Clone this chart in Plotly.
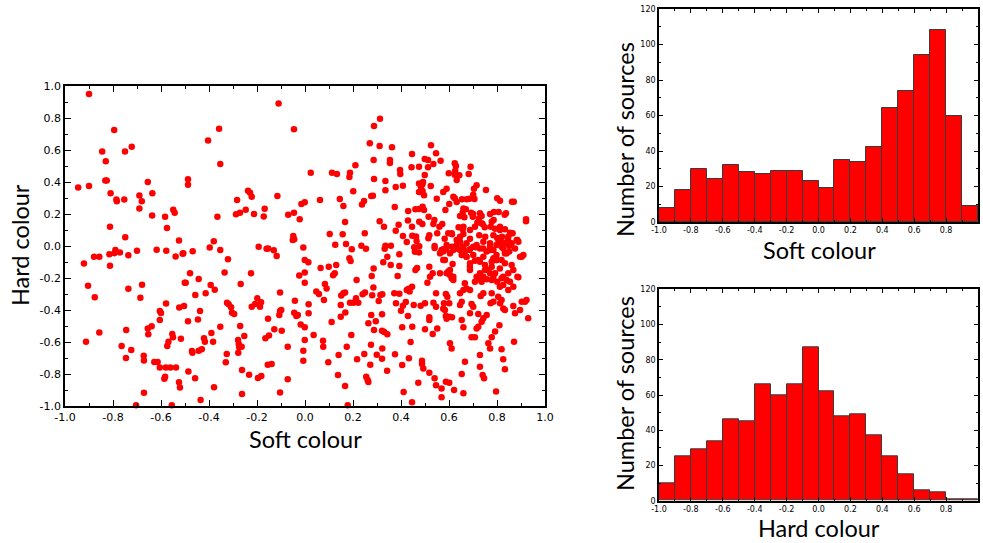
import numpy as np
import plotly.graph_objects as go

# ---------------- data ----------------
soft_colour = [
    -0.90, -0.795, -0.845, -0.75, -0.722, -0.83, -0.832, -0.826, -0.945, -0.90,
    -0.655, -0.81, -0.786, -0.784, -0.753, -0.69, -0.68, -0.636, -0.69, -0.637,
    -0.549, -0.543, -0.583, -0.8125, -0.575, -0.749, -0.525,
    -0.921, -0.879, -0.857, -0.815, -0.794, -0.79, -0.771, -0.8125, -0.736, -0.70,
    -0.618, -0.578, -0.539, -0.51,
    -0.904, -0.876, -0.736, -0.679, -0.686, -0.501, -0.579, -0.605, -0.60, -0.605,
    -0.524, -0.504,
    -0.857, -0.9125, -0.745, -0.655, -0.639, -0.653, -0.553, -0.55, -0.569, -0.574,
    -0.517, -0.764, -0.724, -0.746, -0.672, -0.671, -0.628, -0.614, -0.605, -0.58,
    -0.561, -0.5375, -0.586, -0.583, -0.525, -0.521, -0.671, -0.704, -0.555,
    -0.11, -0.358, -0.046, -0.404, -0.353, -0.4875, -0.4875, -0.2375, -0.229, -0.222,
    -0.283, -0.115, -0.365, -0.2875, -0.271, -0.247, -0.2125, -0.168, -0.172, -0.07,
    -0.046, -0.022, -0.015, -0.001, -0.38, -0.049, -0.045, -0.051,
    -0.507, -0.468, -0.397, -0.353, -0.193, -0.16, -0.153, -0.13, -0.118, -0.321,
    -0.007, -0.001, -0.479, -0.335, -0.225, -0.497, -0.443, -0.393, -0.376, -0.268,
    -0.024, -0.001, -0.001, -0.457, -0.414, -0.104, -0.325, -0.318, -0.308, -0.304,
    -0.295, -0.199, -0.183, -0.1875, -0.208, -0.222, -0.4375, -0.4875, -0.446, -0.104,
    -0.099, -0.107, -0.154, -0.042, -0.045, -0.036, -0.03, -0.018, -0.001, -0.353,
    -0.27, -0.39, -0.421, -0.417, -0.383, -0.279, -0.276, -0.274, -0.264, -0.278,
    -0.253, -0.165, -0.15, -0.128, -0.097, -0.072, -0.007, -0.001, -0.471, -0.469,
    -0.443, -0.43, -0.326, -0.33, -0.007, -0.155, -0.139, -0.486, -0.458, -0.2625,
    -0.233, -0.196, -0.182, -0.072, -0.379, -0.2625, -0.104, -0.435,
    0.3125, 0.2875, 0.27, 0.311, 0.3625, 0.446, 0.286, 0.354, 0.354, 0.499,
    0.21, 0.024, 0.1125, 0.133, 0.1875, 0.185, 0.396, 0.397, 0.444, 0.475,
    0.2875, 0.335, 0.335, 0.378, 0.408, 0.475, 0.489, 0.483, 0.492, 0.201,
    0.475, 0.49, 0.496, 0.0625, 0.145, 0.16, 0.276, 0.283, 0.2375, 0.246,
    0.374, 0.43, 0.46, 0.475, 0.49, 0.496, 0.167, 0.311, 0.329, 0.39,
    0.378, 0.429, 0.446, 0.476, 0.489, 0.103, 0.157, 0.249, 0.408, 0.447,
    0.4625, 0.424, 0.465, 0.126, 0.171, 0.235, 0.254, 0.195, 0.335, 0.358,
    0.332, 0.455, 0.476,
    0.014, 0.065, 0.099, 0.13, 0.185, 0.19, 0.117, 0.124, 0.215, 0.286,
    0.278, 0.326, 0.343, 0.357, 0.393, 0.393, 0.386, 0.46, 0.467, 0.458,
    0.475, 0.083, 0.09, 0.047, 0.058, 0.079, 0.015, 0.015, 0.036, 0.097,
    0.111, 0.149, 0.168, 0.149, 0.151, 0.16, 0.167, 0.1875, 0.201, 0.2125,
    0.222, 0.24, 0.25, 0.28, 0.285, 0.307, 0.314, 0.322, 0.372, 0.393,
    0.379, 0.40, 0.408, 0.42, 0.424, 0.436, 0.432, 0.446, 0.453, 0.482,
    0.429, 0.276, 0.321, 0.264, 0.295, 0.2875, 0.321, 0.343, 0.33, 0.405,
    0.447, 0.193, 0.075, 0.076, 0.174, 0.275, 0.322, 0.44, 0.14, 0.217,
    0.247, 0.299, 0.321, 0.272, 0.375, 0.433, 0.405, 0.4875, 0.4875, 0.342,
    0.1375, 0.255, 0.261, 0.264, 0.167, 0.472, 0.411, 0.446, 0.178,
    0.525, 0.546, 0.5125, 0.565, 0.535, 0.5125, 0.499, 0.624, 0.629, 0.626,
    0.624, 0.599, 0.643, 0.632, 0.69, 0.682, 0.524, 0.549, 0.576, 0.59,
    0.585, 0.618, 0.624, 0.601, 0.632, 0.654, 0.674, 0.685, 0.701, 0.715,
    0.704, 0.754, 0.706, 0.801, 0.8125, 0.8625, 0.87, 0.515, 0.539, 0.535,
    0.56, 0.572, 0.66, 0.67, 0.657, 0.646, 0.664, 0.692, 0.701, 0.699,
    0.729, 0.736, 0.724, 0.718, 0.74, 0.771, 0.7875, 0.807, 0.786, 0.832,
    0.8375, 0.921, 0.921, 0.64, 0.657, 0.6875, 0.708, 0.749, 0.774, 0.792,
    0.8125, 0.833, 0.854, 0.865, 0.518, 0.514, 0.551, 0.597, 0.6125, 0.582,
    0.646, 0.66, 0.6875, 0.726, 0.751, 0.785, 0.801, 0.821, 0.846, 0.82,
    0.885, 0.861, 0.54, 0.576, 0.59, 0.612, 0.632, 0.66, 0.687, 0.712,
    0.743, 0.771, 0.798, 0.826, 0.851,
    0.54, 0.576, 0.587, 0.604, 0.618, 0.632, 0.646, 0.657, 0.666, 0.685,
    0.701, 0.715, 0.729, 0.743, 0.757, 0.771, 0.785, 0.798, 0.819, 0.833,
    0.851, 0.843, 0.889, 0.91, 0.896, 0.576, 0.615, 0.653, 0.673, 0.708,
    0.729, 0.75, 0.764, 0.778, 0.792, 0.812, 0.833, 0.847, 0.868, 0.885,
    0.604, 0.6875, 0.819, 0.798, 0.785, 0.6875, 0.729, 0.743, 0.778, 0.826,
    0.861, 0.673, 0.743, 0.805, 0.875, 0.5625,
    0.518, 0.532, 0.521, 0.51, 0.5625, 0.597, 0.604, 0.611, 0.618, 0.666,
    0.66, 0.673, 0.6875, 0.646, 0.708, 0.722, 0.736, 0.757, 0.771, 0.785,
    0.801, 0.819, 0.84, 0.854, 0.889, 0.868, 0.847, 0.826, 0.546, 0.587,
    0.593, 0.50, 0.535, 0.546, 0.579, 0.601, 0.583, 0.576, 0.587, 0.601,
    0.6125, 0.59, 0.646, 0.653, 0.694, 0.701, 0.732, 0.743, 0.778, 0.773,
    0.785, 0.8125, 0.819, 0.805, 0.826, 0.833, 0.868, 0.875, 0.896, 0.9165,
    0.923, 0.93, 0.903, 0.6875, 0.722, 0.757, 0.743, 0.736, 0.722, 0.715,
    0.653, 0.66, 0.518, 0.518, 0.50, 0.551, 0.532, 0.694, 0.708, 0.604,
    0.611, 0.764, 0.771, 0.778, 0.792, 0.81, 0.871, 0.819, 0.729, 0.826,
    0.6665, 0.493, 0.729, 0.74, 0.746, 0.833, 0.518, 0.54, 0.546, 0.569,
    0.587, 0.601, 0.569, 0.653, 0.621, 0.66, 0.796,
    0.569, 0.583, 0.611, 0.632, 0.646, 0.673, 0.701, 0.722, 0.75, 0.771,
    0.798, 0.826, 0.84, 0.861, 0.59, 0.618, 0.687, 0.715, 0.778, 0.812,
    0.66, 0.736, 0.778, 0.812, 0.847, 0.903, 0.882,
]

hard_colour = [
    0.95, 0.725, 0.59, 0.59, 0.62, 0.53, 0.41, 0.41, 0.365, 0.375,
    0.40, 0.33, 0.29, 0.28, 0.29, 0.315, 0.28, 0.33, 0.235, 0.19,
    0.227, 0.208, 0.183, 0.12, 0.1125, 0.054, 0.035,
    -0.11, -0.067, -0.067, -0.052, -0.045, -0.025, -0.04, -0.123, -0.058, -0.03,
    -0.023, -0.03, -0.065, -0.048,
    -0.248, -0.32, -0.267, -0.242, -0.323, -0.229, -0.36, -0.406, -0.419, -0.4625,
    -0.385, -0.375,
    -0.54, -0.598, -0.525, -0.515, -0.502, -0.552, -0.55, -0.571, -0.598, -0.625,
    -0.579, -0.625, -0.65, -0.70, -0.686, -0.715, -0.725, -0.725, -0.76, -0.76,
    -0.76, -0.76, -0.83, -0.817, -0.852, -0.885, -0.917, -0.996, -0.996,
    0.89, 0.733, 0.73, 0.66, 0.5125, 0.417, 0.383, 0.346, 0.333, 0.308,
    0.2875, 0.3125, 0.183, 0.198, 0.208, 0.227, 0.2, 0.233, 0.185, 0.196,
    0.208, 0.167, 0.2625, 0.273, 0.029, 0.0625, 0.042, 0.0375,
    -0.046, -0.033, -0.01, -0.025, -0.004, -0.017, -0.015, -0.027, -0.0625, -0.083,
    -0.01, -0.0875, -0.17, -0.165, -0.17, -0.229, -0.206, -0.244, -0.273, -0.2375,
    -0.185, -0.165, -0.23, -0.306, -0.296, -0.29, -0.354, -0.364, -0.383, -0.417,
    -0.425, -0.327, -0.352, -0.379, -0.3625, -0.379, -0.406, -0.47, -0.46, -0.406,
    -0.40, -0.431, -0.454, -0.342, -0.417, -0.4375, -0.431, -0.49, -0.508, -0.504,
    -0.50, -0.544, -0.577, -0.598, -0.598, -0.5875, -0.6125, -0.633, -0.629, -0.667,
    -0.5625, -0.577, -0.56, -0.521, -0.529, -0.629, -0.654, -0.5875, -0.656, -0.667,
    -0.654, -0.646, -0.675, -0.727, -0.717, -0.742, -0.7375, -0.785, -0.827, -0.775,
    -0.804, -0.825, -0.8125, -0.833, -0.883, -0.925, -0.915, -0.9625,
    0.796, 0.75, 0.642, 0.625, 0.617, 0.575, 0.5375, 0.5375, 0.519, 0.544,
    0.504, 0.458, 0.458, 0.45, 0.458, 0.431, 0.475, 0.45, 0.492, 0.496,
    0.419, 0.406, 0.348, 0.369, 0.377, 0.39, 0.385, 0.37, 0.40, 0.342,
    0.3375, 0.344, 0.317, 0.2875, 0.294, 0.25, 0.3125, 0.314, 0.26, 0.281,
    0.244, 0.219, 0.229, 0.231, 0.246, 0.225, 0.15, 0.154, 0.121, 0.133,
    0.096, 0.16, 0.121, 0.152, 0.1375, 0.075, 0.073, 0.079, 0.0625, 0.064,
    0.06, 0.025, 0.031, 0.008, 0.0125, 0.002, -0.017, -0.02, 0.002, 0.002,
    -0.017, -0.008, -0.002,
    -0.102, -0.1375, -0.129, -0.119, -0.077, -0.094, -0.183, -0.171, -0.2125, -0.14,
    -0.1875, -0.102, -0.067, -0.119, -0.125, -0.052, -0.1875, -0.15, -0.1375, -0.036,
    -0.04, -0.2375, -0.265, -0.285, -0.30, -0.3375, -0.364, -0.42, -0.556, -0.727,
    -0.475, -0.442, -0.415, -0.369, -0.31, -0.296, -0.29, -0.354, -0.354, -0.327,
    -0.354, -0.302, -0.29, -0.308, -0.26, -0.344, -0.306, -0.302, -0.296, -0.298,
    -0.358, -0.404, -0.373, -0.35, -0.275, -0.285, -0.267, -0.254, -0.369, -0.373,
    -0.4375, -0.431, -0.427, -0.483, -0.471, -0.525, -0.529, -0.552, -0.5375, -0.508,
    -0.504, -0.556, -0.592, -0.629, -0.629, -0.617, -0.64, -0.60, -0.681, -0.708,
    -0.675, -0.679, -0.704, -0.742, -0.677, -0.702, -0.744, -0.717, -0.7375, -0.779,
    -0.806, -0.817, -0.8375, -0.85, -0.875, -0.854, -0.9125, -0.977, -0.996,
    0.629, 0.579, 0.5375, 0.533, 0.5125, 0.492, 0.444, 0.517, 0.50, 0.471,
    0.446, 0.454, 0.442, 0.4125, 0.496, 0.45, 0.375, 0.296, 0.3375, 0.358,
    0.225, 0.308, 0.298, 0.2625, 0.275, 0.292, 0.292, 0.296, 0.321, 0.379,
    0.358, 0.35, 0.294, 0.298, 0.283, 0.277, 0.277, 0.183, 0.1625, 0.1375,
    0.121, 0.1375, 0.235, 0.229, 0.208, 0.1875, 0.179, 0.208, 0.20, 0.183,
    0.204, 0.1875, 0.171, 0.146, 0.1375, 0.20, 0.2125, 0.2125, 0.1625, 0.196,
    0.204, 0.167, 0.154, 0.117, 0.104, 0.10, 0.121, 0.117, 0.121, 0.108,
    0.121, 0.104, 0.083, 0.079, 0.067, 0.048, 0.079, 0.079, 0.073, 0.046,
    0.058, 0.075, 0.046, 0.067, 0.058, 0.067, 0.05, 0.058, 0.0375, 0.027,
    0.0375, 0.017, 0.0, -0.021, 0.006, -0.004, -0.015, -0.004, -0.021, -0.008,
    -0.015, -0.004, 0.006, -0.015, 0.0,
    -0.0125, -0.035, -0.021, -0.046, -0.025, 0.006, 0.027, -0.008, -0.035, -0.025,
    -0.056, 0.006, -0.015, -0.067, -0.035, 0.017, -0.025, -0.056, -0.004, -0.046,
    -0.035, 0.017, 0.027, -0.056, -0.067, -0.0875, -0.1125, -0.056, -0.067, -0.092,
    -0.098, -0.119, -0.15, -0.129, -0.171, -0.14, -0.108, -0.171, -0.15, -0.192,
    -0.15, -0.15, -0.0875, -0.0875, -0.077, -0.108, -0.171, -0.192, -0.098, -0.192,
    -0.119, 0.017, 0.027, 0.017, -0.015, -0.046,
    -0.129, -0.171, -0.192, -0.229, -0.171, -0.16, -0.181, -0.202, -0.2125, -0.233,
    -0.275, -0.265, -0.275, -0.296, -0.223, -0.208, -0.223, -0.208, -0.171, -0.192,
    -0.223, -0.202, -0.2125, -0.223, -0.196, -0.254, -0.275, -0.244, -0.296, -0.30,
    -0.317, -0.358, -0.354, -0.379, -0.358, -0.358, -0.40, -0.392, -0.4375, -0.442,
    -0.446, -0.454, -0.369, -0.348, -0.3625, -0.379, -0.3125, -0.296, -0.296, -0.358,
    -0.348, -0.358, -0.3375, -0.317, -0.39, -0.40, -0.375, -0.421, -0.40, -0.348,
    -0.3375, -0.452, -0.348, -0.421, -0.425, -0.431, -0.452, -0.473, -0.504, -0.515,
    -0.4625, -0.508, -0.446, -0.4625, -0.521, -0.515, -0.55, -0.571, -0.571, -0.608,
    -0.64, -0.608, -0.64, -0.571, -0.535, -0.496, -0.598, -0.646, -0.681, -0.708,
    -0.723, -0.765, -0.754, -0.806, -0.827, -0.771, -0.792, -0.827, -0.871, -0.89,
    -0.848, -0.854, -0.946, -0.8, -0.9, -0.921, -0.91,
    -0.025, -0.0875, 0.079, 0.0375, -0.025, -0.067, -0.004, -0.0875, -0.15, -0.025,
    -0.0875, 0.017, -0.046, 0.079, -0.171, -0.192, -0.129, -0.192, -0.2125, -0.254,
    0.121, 0.142, 0.152, 0.10, 0.058, -0.067, 0.0375,
]

# histogram counts, bins of width 0.1 from -1.0 to 1.0
soft_counts = [8, 18, 30, 24, 32, 28, 27, 29, 29, 23,
               19, 35, 34, 42, 64, 74, 94, 108, 60, 9]
hard_counts = [10, 25, 29, 34, 46, 45, 66, 60, 66, 87,
               62, 48, 49, 37, 25, 15, 6, 5, 1, 1]

colour_ticks = [-1.0, -0.8, -0.6, -0.4, -0.2, 0.0, 0.2, 0.4, 0.6, 0.8, 1.0]
colour_tick_text = ["-1.0", "-0.8", "-0.6", "-0.4", "-0.2", "0.0", "0.2", "0.4", "0.6", "0.8", "1.0"]
count_ticks = [0, 20, 40, 60, 80, 100, 120]

# ---------------- figure ----------------
W, H = 983, 543
bin_edges = np.linspace(-1.0, 1.0, len(soft_counts) + 1)
bin_centers = 0.5 * (bin_edges[:-1] + bin_edges[1:])

fig = go.Figure()

fig.add_trace(go.Scatter(
    x=soft_colour, y=hard_colour, mode="markers",
    marker=dict(color="#ff0000", size=6.5, line=dict(width=0)),
    xaxis="x", yaxis="y", showlegend=False, cliponaxis=False))

fig.add_trace(go.Bar(
    x=bin_centers, y=soft_counts, width=0.1,
    marker=dict(color="#ff0000", line=dict(color="#3a3a3a", width=1)),
    xaxis="x2", yaxis="y2", showlegend=False))

fig.add_trace(go.Bar(
    x=bin_centers, y=hard_counts, width=0.1,
    marker=dict(color="#ff0000", line=dict(color="#3a3a3a", width=1)),
    xaxis="x3", yaxis="y3", showlegend=False))

tick_font_big = dict(family="DejaVu Sans", size=11, color="black")
tick_font_small = dict(family="DejaVu Sans", size=8, color="black")

def colour_axis(domain, anchor, font, ticklen=6):
    return dict(domain=domain, anchor=anchor, range=[-1, 1], automargin=False,
                tickvals=colour_ticks, ticktext=colour_tick_text,
                ticks="inside", ticklen=ticklen, tickcolor="black",
                minor=dict(ticks="inside", ticklen=ticklen // 2, dtick=0.1, tickcolor="black"),
                showline=True, linecolor="black", linewidth=1.5, mirror="ticks",
                showgrid=False, zeroline=False, tickfont=font)

def count_axis(domain, anchor):
    return dict(domain=domain, anchor=anchor, range=[0, 120], automargin=False,
                tickvals=count_ticks,
                ticks="inside", ticklen=4, tickcolor="black",
                minor=dict(ticks="inside", ticklen=2, dtick=10, tickcolor="black"),
                showline=True, linecolor="black", linewidth=1.5, mirror="ticks",
                showgrid=False, zeroline=False, tickfont=tick_font_small)

def px_x(p):
    return p / W

def px_y(p):
    return 1 - p / H

fig.update_layout(
    width=W, height=H, autosize=False,
    margin=dict(l=0, r=0, t=0, b=0, pad=0, autoexpand=False),
    paper_bgcolor="white", plot_bgcolor="white",
    bargap=0,
    xaxis=colour_axis([px_x(65), px_x(545)], "y", tick_font_big),
    yaxis=colour_axis([px_y(406), px_y(86)], "x", tick_font_big),
    xaxis2=colour_axis([px_x(659), px_x(978)], "y2", tick_font_small, ticklen=4),
    yaxis2=count_axis([px_y(222), px_y(9)], "x2"),
    xaxis3=colour_axis([px_x(659), px_x(978)], "y3", tick_font_small, ticklen=4),
    yaxis3=count_axis([px_y(500.7), px_y(289.3)], "x3"),
)

title_font = dict(family="Lato", size=23.5, color="black")
labels = [
    ("Hard colour", 20, 245, -90),
    ("Soft colour", 305, 439, 0),
    ("Number of sources", 625, 140, -90),
    ("Soft colour", 819, 250, 0),
    ("Number of sources", 625, 394, -90),
    ("Hard colour", 819, 528, 0),
]
for text, xp, yp, ang in labels:
    fig.add_annotation(text=text, x=px_x(xp), y=px_y(yp), xref="paper", yref="paper",
                       showarrow=False, textangle=ang, font=title_font,
                       xanchor="center", yanchor="middle")

fig.write_html("out.html", config={"responsive": False, "displayModeBar": False},
               post_script="document.body.style.margin='0';document.body.style.overflow='hidden';")
